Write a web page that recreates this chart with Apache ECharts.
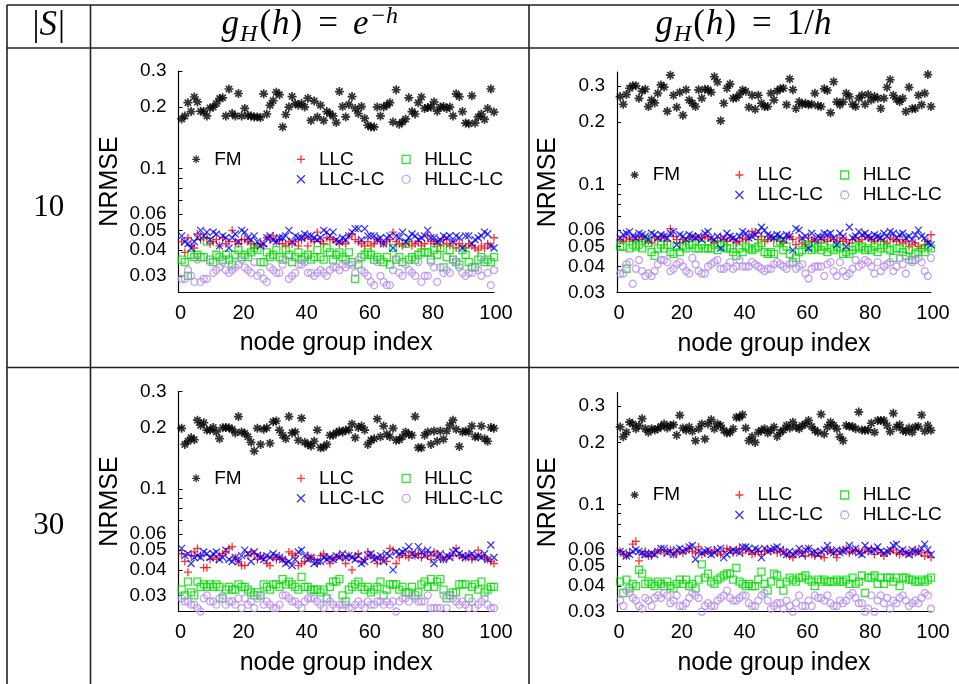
<!DOCTYPE html>
<html>
  <head>
    <meta charset="UTF-8" />
    <title>NRMSE per node group</title>
    <script src="https://cdn.jsdelivr.net/npm/echarts@6/dist/echarts.min.js"></script>
    <style>
      html, body { margin: 0; padding: 0; background: #fff; }
      #main { width: 959px; height: 684px; }
    </style>
  </head>
  <body>
    <div id="main"></div>
    <script>
      // |S| = 10, g_H(h) = e^-h
      const fmExp10 = [
        0.175,0.181,0.210,0.190,0.224,0.212,0.191,0.190,0.181,0.198,
        0.200,0.208,0.220,0.222,0.181,0.245,0.186,0.181,0.233,0.181,
        0.197,0.182,0.181,0.179,0.179,0.178,0.232,0.185,0.204,0.215,
        0.236,0.230,0.160,0.184,0.200,0.225,0.208,0.204,0.208,0.200,
        0.221,0.172,0.214,0.179,0.204,0.172,0.190,0.186,0.181,0.168,
        0.238,0.201,0.179,0.206,0.225,0.197,0.186,0.201,0.176,0.163,
        0.160,0.160,0.200,0.181,0.200,0.204,0.210,0.169,0.243,0.165,
        0.169,0.175,0.222,0.190,0.185,0.210,0.224,0.197,0.199,0.200,
        0.212,0.191,0.200,0.201,0.197,0.200,0.181,0.232,0.225,0.190,
        0.167,0.166,0.227,0.167,0.179,0.185,0.174,0.197,0.245,0.189];
      const llcExp10 = [
        0.044,0.039,0.046,0.042,0.041,0.048,0.045,0.046,0.046,0.043,
        0.044,0.045,0.042,0.046,0.043,0.044,0.050,0.044,0.043,0.045,
        0.045,0.044,0.043,0.041,0.042,0.043,0.042,0.046,0.045,0.047,
        0.044,0.045,0.043,0.042,0.044,0.043,0.044,0.042,0.045,0.046,
        0.042,0.045,0.044,0.049,0.044,0.043,0.046,0.045,0.045,0.044,
        0.043,0.044,0.043,0.047,0.048,0.045,0.044,0.043,0.042,0.044,
        0.042,0.043,0.045,0.044,0.043,0.044,0.045,0.049,0.044,0.043,
        0.042,0.043,0.044,0.042,0.043,0.044,0.042,0.043,0.047,0.044,
        0.043,0.044,0.042,0.045,0.043,0.042,0.044,0.041,0.043,0.042,
        0.041,0.043,0.042,0.041,0.040,0.042,0.041,0.043,0.042,0.046];
      const hllcExp10 = [
        0.036,0.035,0.030,0.038,0.037,0.038,0.037,0.037,0.044,0.036,
        0.035,0.038,0.037,0.036,0.038,0.036,0.034,0.038,0.040,0.037,
        0.038,0.037,0.039,0.041,0.040,0.035,0.035,0.039,0.037,0.038,
        0.040,0.037,0.036,0.040,0.038,0.035,0.037,0.039,0.036,0.037,
        0.038,0.036,0.037,0.040,0.037,0.036,0.041,0.039,0.036,0.038,
        0.039,0.037,0.036,0.039,0.035,0.029,0.034,0.037,0.038,0.039,
        0.038,0.036,0.037,0.036,0.035,0.037,0.034,0.041,0.036,0.037,
        0.035,0.043,0.036,0.037,0.036,0.038,0.039,0.039,0.039,0.036,
        0.040,0.038,0.041,0.033,0.037,0.040,0.036,0.035,0.034,0.040,
        0.038,0.035,0.033,0.033,0.036,0.037,0.035,0.036,0.035,0.037];
      const llclcExp10 = [
        0.047,0.044,0.043,0.041,0.044,0.046,0.050,0.047,0.049,0.045,
        0.049,0.048,0.042,0.047,0.046,0.041,0.046,0.048,0.044,0.050,
        0.049,0.046,0.045,0.047,0.044,0.042,0.043,0.046,0.047,0.045,
        0.044,0.046,0.046,0.047,0.050,0.044,0.047,0.046,0.046,0.048,
        0.047,0.047,0.046,0.045,0.046,0.050,0.049,0.047,0.049,0.045,
        0.044,0.046,0.045,0.047,0.049,0.051,0.051,0.045,0.051,0.047,
        0.047,0.047,0.045,0.046,0.043,0.046,0.047,0.041,0.047,0.046,
        0.049,0.044,0.046,0.048,0.047,0.045,0.046,0.047,0.050,0.046,
        0.046,0.044,0.045,0.047,0.046,0.047,0.044,0.047,0.046,0.041,
        0.047,0.047,0.043,0.045,0.046,0.047,0.049,0.048,0.042,0.041];
      const hllclcExp10 = [
        0.029,0.029,0.032,0.030,0.028,0.036,0.028,0.029,0.029,0.035,
        0.031,0.032,0.033,0.035,0.032,0.031,0.032,0.033,0.034,0.036,
        0.033,0.032,0.031,0.035,0.030,0.031,0.029,0.028,0.033,0.032,
        0.031,0.031,0.034,0.036,0.029,0.030,0.031,0.034,0.034,0.035,
        0.031,0.031,0.030,0.031,0.032,0.031,0.030,0.032,0.033,0.033,
        0.032,0.034,0.033,0.034,0.034,0.031,0.036,0.032,0.031,0.030,
        0.028,0.027,0.035,0.030,0.028,0.027,0.027,0.032,0.036,0.031,
        0.030,0.034,0.032,0.031,0.030,0.035,0.028,0.030,0.030,0.035,
        0.033,0.028,0.033,0.031,0.032,0.031,0.036,0.035,0.033,0.031,
        0.030,0.031,0.031,0.033,0.032,0.030,0.036,0.031,0.027,0.032];

      // |S| = 10, g_H(h) = 1/h
      const fmInv10 = [
        0.266,0.244,0.272,0.292,0.300,0.300,0.261,0.283,0.289,0.238,
        0.256,0.248,0.276,0.303,0.296,0.226,0.338,0.270,0.236,0.279,
        0.216,0.287,0.256,0.247,0.238,0.287,0.261,0.289,0.287,0.279,
        0.332,0.313,0.203,0.247,0.292,0.306,0.261,0.263,0.272,0.286,
        0.282,0.236,0.270,0.231,0.270,0.247,0.238,0.238,0.276,0.256,
        0.283,0.290,0.292,0.243,0.324,0.287,0.233,0.251,0.244,0.247,
        0.243,0.244,0.276,0.240,0.238,0.290,0.285,0.222,0.314,0.251,
        0.243,0.251,0.276,0.266,0.244,0.238,0.261,0.270,0.244,0.272,
        0.256,0.266,0.261,0.233,0.261,0.295,0.321,0.270,0.258,0.251,
        0.261,0.225,0.295,0.232,0.233,0.270,0.243,0.276,0.340,0.238];
      const llcInv10 = [
        0.054,0.053,0.055,0.054,0.053,0.056,0.054,0.055,0.054,0.053,
        0.052,0.055,0.054,0.055,0.056,0.053,0.061,0.056,0.054,0.052,
        0.054,0.053,0.055,0.054,0.056,0.054,0.055,0.056,0.055,0.054,
        0.052,0.053,0.055,0.054,0.053,0.055,0.054,0.052,0.053,0.055,
        0.054,0.055,0.059,0.058,0.054,0.056,0.053,0.054,0.055,0.054,
        0.056,0.053,0.052,0.055,0.056,0.054,0.051,0.055,0.052,0.051,
        0.055,0.053,0.054,0.052,0.055,0.054,0.053,0.055,0.054,0.053,
        0.055,0.053,0.054,0.052,0.054,0.055,0.053,0.054,0.056,0.055,
        0.054,0.053,0.055,0.054,0.053,0.052,0.055,0.054,0.053,0.054,
        0.052,0.053,0.050,0.051,0.052,0.050,0.049,0.051,0.053,0.057];
      const hllcInv10 = [
        0.050,0.050,0.039,0.049,0.051,0.050,0.051,0.049,0.054,0.052,
        0.047,0.045,0.049,0.051,0.049,0.051,0.047,0.046,0.050,0.047,
        0.050,0.049,0.051,0.051,0.049,0.049,0.051,0.049,0.049,0.049,
        0.051,0.048,0.051,0.050,0.049,0.049,0.047,0.045,0.049,0.047,
        0.050,0.049,0.048,0.049,0.050,0.052,0.047,0.046,0.047,0.046,
        0.052,0.053,0.048,0.050,0.046,0.042,0.044,0.047,0.048,0.051,
        0.050,0.048,0.049,0.050,0.048,0.050,0.047,0.049,0.048,0.050,
        0.049,0.046,0.047,0.046,0.048,0.050,0.049,0.050,0.048,0.049,
        0.048,0.050,0.047,0.049,0.051,0.049,0.048,0.044,0.049,0.049,
        0.047,0.045,0.048,0.043,0.046,0.047,0.049,0.047,0.050,0.049];
      const llclcInv10 = [
        0.055,0.057,0.058,0.059,0.056,0.055,0.058,0.057,0.056,0.054,
        0.058,0.057,0.055,0.057,0.056,0.055,0.058,0.059,0.051,0.057,
        0.056,0.054,0.057,0.056,0.055,0.056,0.054,0.058,0.059,0.055,
        0.054,0.056,0.049,0.055,0.058,0.056,0.055,0.054,0.056,0.059,
        0.058,0.055,0.056,0.057,0.059,0.062,0.060,0.057,0.056,0.055,
        0.057,0.056,0.054,0.057,0.056,0.048,0.061,0.060,0.055,0.056,
        0.049,0.058,0.054,0.056,0.055,0.058,0.057,0.058,0.055,0.051,
        0.058,0.056,0.050,0.062,0.055,0.056,0.059,0.057,0.058,0.056,
        0.055,0.057,0.056,0.055,0.058,0.056,0.059,0.058,0.055,0.057,
        0.058,0.055,0.056,0.054,0.057,0.060,0.056,0.055,0.052,0.051];
      const hllclcInv10 = [
        0.037,0.037,0.041,0.042,0.033,0.039,0.043,0.038,0.036,0.037,
        0.036,0.038,0.041,0.043,0.043,0.042,0.038,0.039,0.041,0.042,
        0.040,0.038,0.037,0.044,0.041,0.038,0.037,0.037,0.040,0.041,
        0.042,0.043,0.039,0.039,0.040,0.042,0.039,0.040,0.043,0.040,
        0.040,0.040,0.042,0.041,0.040,0.039,0.038,0.039,0.039,0.041,
        0.042,0.041,0.040,0.039,0.041,0.042,0.039,0.040,0.041,0.037,
        0.035,0.039,0.040,0.040,0.040,0.036,0.041,0.042,0.038,0.036,
        0.042,0.038,0.036,0.037,0.039,0.043,0.040,0.041,0.043,0.042,
        0.040,0.037,0.042,0.038,0.040,0.041,0.042,0.038,0.040,0.044,
        0.041,0.037,0.043,0.042,0.043,0.044,0.042,0.038,0.036,0.044];

      // |S| = 30, g_H(h) = e^-h
      const fmExp30 = [
        0.198,0.165,0.171,0.178,0.174,0.217,0.205,0.211,0.194,0.194,
        0.200,0.190,0.176,0.199,0.200,0.199,0.196,0.188,0.226,0.190,
        0.187,0.180,0.169,0.153,0.198,0.165,0.196,0.199,0.167,0.213,
        0.215,0.194,0.183,0.176,0.226,0.188,0.190,0.173,0.222,0.169,
        0.165,0.162,0.171,0.194,0.159,0.160,0.165,0.183,0.183,0.188,
        0.192,0.190,0.194,0.194,0.208,0.178,0.200,0.203,0.194,0.165,
        0.173,0.176,0.220,0.180,0.203,0.185,0.180,0.198,0.173,0.174,
        0.180,0.190,0.185,0.183,0.226,0.159,0.159,0.183,0.190,0.165,
        0.192,0.171,0.192,0.175,0.192,0.205,0.217,0.196,0.161,0.190,
        0.192,0.190,0.203,0.180,0.180,0.203,0.176,0.171,0.200,0.198];
      const llcExp30 = [
        0.048,0.044,0.039,0.047,0.049,0.051,0.047,0.041,0.041,0.045,
        0.046,0.045,0.047,0.048,0.049,0.051,0.052,0.046,0.044,0.042,
        0.042,0.047,0.049,0.048,0.045,0.047,0.046,0.043,0.042,0.046,
        0.045,0.046,0.045,0.044,0.049,0.048,0.047,0.042,0.043,0.044,
        0.047,0.046,0.045,0.043,0.047,0.048,0.046,0.043,0.045,0.046,
        0.047,0.046,0.043,0.047,0.040,0.046,0.048,0.044,0.045,0.049,
        0.047,0.046,0.043,0.045,0.046,0.044,0.051,0.050,0.043,0.046,
        0.048,0.047,0.046,0.049,0.047,0.048,0.046,0.049,0.047,0.045,
        0.049,0.048,0.046,0.045,0.046,0.047,0.047,0.051,0.047,0.046,
        0.046,0.047,0.045,0.046,0.050,0.047,0.046,0.045,0.044,0.043];
      const hllcExp30 = [
        0.032,0.030,0.035,0.031,0.030,0.035,0.033,0.034,0.033,0.034,
        0.033,0.034,0.033,0.029,0.032,0.033,0.032,0.032,0.034,0.033,
        0.033,0.032,0.031,0.030,0.031,0.030,0.034,0.033,0.032,0.034,
        0.034,0.033,0.036,0.034,0.035,0.034,0.033,0.032,0.037,0.033,
        0.033,0.032,0.032,0.032,0.031,0.032,0.029,0.033,0.035,0.035,
        0.036,0.030,0.028,0.032,0.033,0.034,0.035,0.033,0.032,0.033,
        0.031,0.032,0.033,0.035,0.030,0.032,0.034,0.034,0.034,0.032,
        0.033,0.031,0.031,0.033,0.030,0.031,0.034,0.035,0.033,0.036,
        0.033,0.035,0.036,0.032,0.029,0.030,0.031,0.031,0.034,0.034,
        0.034,0.029,0.033,0.034,0.032,0.035,0.031,0.032,0.033,0.033];
      const llclcExp30 = [
        0.051,0.047,0.048,0.043,0.046,0.047,0.046,0.049,0.048,0.046,
        0.048,0.049,0.045,0.046,0.050,0.045,0.044,0.046,0.044,0.047,
        0.050,0.048,0.044,0.049,0.047,0.046,0.045,0.047,0.046,0.048,
        0.047,0.046,0.045,0.043,0.044,0.042,0.045,0.049,0.050,0.047,
        0.045,0.046,0.043,0.044,0.044,0.046,0.045,0.046,0.045,0.047,
        0.046,0.048,0.046,0.047,0.046,0.045,0.047,0.043,0.044,0.047,
        0.048,0.045,0.046,0.047,0.044,0.048,0.047,0.040,0.049,0.048,
        0.049,0.050,0.052,0.048,0.047,0.052,0.049,0.047,0.050,0.048,
        0.043,0.046,0.048,0.045,0.047,0.046,0.049,0.050,0.048,0.047,
        0.046,0.047,0.048,0.046,0.047,0.046,0.048,0.045,0.053,0.046];
      const hllclcExp30 = [
        0.029,0.028,0.028,0.027,0.027,0.026,0.025,0.029,0.030,0.028,
        0.028,0.027,0.029,0.030,0.027,0.028,0.028,0.027,0.029,0.026,
        0.029,0.027,0.028,0.026,0.029,0.030,0.027,0.028,0.027,0.026,
        0.026,0.027,0.030,0.030,0.029,0.028,0.028,0.027,0.026,0.028,
        0.029,0.029,0.029,0.028,0.027,0.026,0.029,0.028,0.027,0.026,
        0.027,0.027,0.027,0.026,0.026,0.027,0.028,0.027,0.026,0.028,
        0.027,0.027,0.028,0.028,0.027,0.028,0.027,0.028,0.025,0.028,
        0.029,0.029,0.028,0.030,0.029,0.028,0.028,0.028,0.030,0.026,
        0.026,0.026,0.026,0.030,0.026,0.030,0.029,0.028,0.027,0.028,
        0.027,0.026,0.028,0.026,0.027,0.028,0.029,0.027,0.026,0.026];

      // |S| = 30, g_H(h) = 1/h
      const fmInv30 = [
        0.238,0.213,0.224,0.251,0.246,0.233,0.242,0.261,0.233,0.224,
        0.233,0.230,0.233,0.239,0.246,0.235,0.242,0.244,0.217,0.271,
        0.235,0.229,0.238,0.227,0.204,0.233,0.246,0.208,0.246,0.258,
        0.233,0.246,0.242,0.229,0.222,0.224,0.233,0.265,0.265,0.273,
        0.235,0.204,0.213,0.200,0.224,0.229,0.233,0.222,0.229,0.238,
        0.214,0.224,0.230,0.242,0.235,0.251,0.238,0.233,0.242,0.246,
        0.256,0.239,0.229,0.224,0.274,0.220,0.238,0.251,0.242,0.233,
        0.213,0.204,0.242,0.239,0.239,0.233,0.281,0.230,0.229,0.230,
        0.248,0.224,0.256,0.256,0.256,0.242,0.226,0.277,0.238,0.244,
        0.229,0.226,0.235,0.224,0.238,0.239,0.272,0.227,0.242,0.229];
      const llcInv30 = [
        0.059,0.057,0.056,0.058,0.064,0.066,0.053,0.057,0.059,0.056,
        0.056,0.058,0.059,0.060,0.058,0.059,0.060,0.057,0.058,0.059,
        0.058,0.060,0.061,0.059,0.058,0.062,0.057,0.058,0.059,0.058,
        0.060,0.058,0.057,0.059,0.061,0.060,0.058,0.060,0.061,0.058,
        0.060,0.059,0.057,0.058,0.059,0.057,0.059,0.060,0.059,0.060,
        0.058,0.059,0.060,0.057,0.056,0.055,0.058,0.059,0.058,0.056,
        0.061,0.057,0.056,0.058,0.056,0.055,0.059,0.060,0.058,0.055,
        0.059,0.060,0.061,0.058,0.059,0.060,0.059,0.058,0.060,0.059,
        0.061,0.057,0.060,0.058,0.056,0.058,0.059,0.060,0.058,0.057,
        0.059,0.058,0.058,0.057,0.060,0.059,0.058,0.056,0.058,0.055];
      const hllcInv30 = [
        0.042,0.037,0.043,0.039,0.041,0.040,0.048,0.046,0.041,0.042,
        0.041,0.040,0.042,0.041,0.040,0.042,0.040,0.039,0.041,0.043,
        0.041,0.043,0.040,0.041,0.039,0.043,0.051,0.044,0.046,0.042,
        0.041,0.043,0.044,0.045,0.046,0.046,0.043,0.049,0.042,0.041,
        0.040,0.041,0.040,0.040,0.043,0.047,0.041,0.038,0.042,0.046,
        0.045,0.041,0.038,0.042,0.044,0.043,0.042,0.044,0.044,0.045,
        0.043,0.042,0.040,0.043,0.042,0.043,0.042,0.042,0.042,0.043,
        0.042,0.042,0.043,0.041,0.044,0.041,0.042,0.045,0.037,0.044,
        0.044,0.045,0.041,0.044,0.041,0.044,0.044,0.042,0.044,0.040,
        0.044,0.044,0.043,0.043,0.042,0.042,0.043,0.042,0.043,0.044];
      const llclcInv30 = [
        0.059,0.058,0.056,0.057,0.059,0.060,0.059,0.058,0.057,0.057,
        0.058,0.057,0.059,0.061,0.061,0.058,0.059,0.057,0.060,0.061,
        0.059,0.060,0.062,0.063,0.054,0.059,0.058,0.059,0.060,0.057,
        0.058,0.060,0.061,0.055,0.057,0.059,0.060,0.059,0.058,0.062,
        0.062,0.061,0.059,0.061,0.060,0.055,0.061,0.059,0.060,0.061,
        0.062,0.060,0.058,0.057,0.059,0.057,0.058,0.061,0.057,0.060,
        0.061,0.058,0.059,0.057,0.059,0.060,0.063,0.059,0.058,0.060,
        0.058,0.059,0.060,0.063,0.059,0.061,0.058,0.057,0.063,0.060,
        0.059,0.060,0.062,0.059,0.058,0.059,0.060,0.063,0.064,0.059,
        0.060,0.058,0.057,0.060,0.059,0.058,0.061,0.064,0.060,0.057];
      const hllclcInv30 = [
        0.034,0.032,0.038,0.037,0.035,0.034,0.032,0.031,0.035,0.034,
        0.032,0.035,0.036,0.035,0.037,0.036,0.033,0.034,0.036,0.032,
        0.032,0.033,0.035,0.037,0.036,0.035,0.030,0.032,0.033,0.032,
        0.032,0.034,0.035,0.036,0.038,0.035,0.034,0.034,0.035,0.036,
        0.036,0.033,0.032,0.032,0.034,0.036,0.037,0.034,0.031,0.032,
        0.033,0.033,0.031,0.034,0.032,0.030,0.033,0.036,0.032,0.032,
        0.034,0.032,0.036,0.035,0.035,0.034,0.036,0.033,0.032,0.032,
        0.034,0.033,0.034,0.036,0.037,0.035,0.033,0.033,0.030,0.031,
        0.036,0.030,0.034,0.036,0.033,0.035,0.031,0.034,0.033,0.035,
        0.036,0.034,0.032,0.033,0.034,0.033,0.035,0.037,0.036,0.031];

      const yTickValues = [0.03, 0.04, 0.05, 0.06, 0.07, 0.08, 0.09, 0.1, 0.2, 0.3];
      const yLabelValues = [0.03, 0.04, 0.05, 0.06, 0.1, 0.2, 0.3];
      const xLabelStep = 20;

      const SANS = 'Liberation Sans, Arial, sans-serif';
      const SERIF = 'Liberation Serif, Times New Roman, serif';

      const looks = {
        'FM':      { color: '#000000', size: 9, width: 1.7, symbol: 'path://M0,5L10,5M5,0L5,10M1.5,1.5L8.5,8.5M8.5,1.5L1.5,8.5' },
        'LLC':     { color: '#ff0000', size: 8, width: 1.3, symbol: 'path://M0,5L10,5M5,0L5,10' },
        'HLLC':    { color: '#00dd00', size: 7, width: 1.3, symbol: 'path://M0,0L10,0L10,10L0,10Z' },
        'LLC-LC':  { color: '#0000ff', size: 7, width: 1.3, symbol: 'path://M0,0L10,10M10,0L0,10' },
        'HLLC-LC': { color: '#b68cf0', size: 7, width: 1.3, symbol: 'circle' }
      };

      const panels = [
        { grid: { left: 178.5, top: 71, width: 315.5, height: 221 }, yMin: 0.025, yMax: 0.3, legendRow: 88.3,
          series: { 'FM': fmExp10, 'LLC': llcExp10, 'HLLC': hllcExp10, 'LLC-LC': llclcExp10, 'HLLC-LC': hllclcExp10 } },
        { grid: { left: 617, top: 72, width: 314, height: 220.3 }, yMin: 0.03, yMax: 0.35, legendRow: 103,
          series: { 'FM': fmInv10, 'LLC': llcInv10, 'HLLC': hllcInv10, 'LLC-LC': llclcInv10, 'HLLC-LC': hllclcInv10 } },
        { grid: { left: 178.5, top: 391.5, width: 315.5, height: 220 }, yMin: 0.025, yMax: 0.3, legendRow: 86.8,
          series: { 'FM': fmExp30, 'LLC': llcExp30, 'HLLC': hllcExp30, 'LLC-LC': llclcExp30, 'HLLC-LC': hllclcExp30 } },
        { grid: { left: 617, top: 392.5, width: 314, height: 219.2 }, yMin: 0.03, yMax: 0.35, legendRow: 102.5,
          series: { 'FM': fmInv30, 'LLC': llcInv30, 'HLLC': hllcInv30, 'LLC-LC': llclcInv30, 'HLLC-LC': hllclcInv30 } }
      ];

      const legendColumns = [
        { offset: 26, names: ['FM'] },
        { offset: 130.8, names: ['LLC', 'LLC-LC'] },
        { offset: 236, names: ['HLLC', 'HLLC-LC'] }
      ];

      const grids = [], xAxes = [], yAxes = [], series = [], legends = [];

      panels.forEach((p, k) => {
        grids.push(Object.assign({ outerBoundsMode: 'none' }, p.grid));

        xAxes.push({
          type: 'value', gridIndex: k, min: 0, max: 100, interval: xLabelStep,
          name: 'node group index', nameLocation: 'middle', nameGap: 39,
          nameTextStyle: { fontFamily: SANS, fontSize: 25, color: '#000' },
          axisLine: { onZero: false, lineStyle: { color: '#000', width: 1.2 } },
          axisTick: { show: false },
          axisLabel: { margin: 11, padding: [0, 0, 0, 4], fontFamily: SANS, fontSize: 20, color: '#000' },
          splitLine: { show: false }
        });

        yAxes.push({
          type: 'log', logBase: 10, gridIndex: k, min: p.yMin, max: p.yMax,
          name: 'NRMSE', nameLocation: 'middle', nameGap: 56,
          nameTextStyle: { fontFamily: SANS, fontSize: 25, color: '#000' },
          axisLine: { show: true, lineStyle: { color: '#000', width: 1.2 } },
          axisTick: { show: true, inside: true, length: 4, customValues: yTickValues,
                      lineStyle: { color: '#000', width: 1 } },
          axisLabel: { customValues: yLabelValues, margin: 12, fontFamily: SANS, fontSize: 19, color: '#000',
                       formatter: v => String(+(+v).toPrecision(3)) },
          splitLine: { show: false }
        });

        Object.keys(p.series).forEach(name => {
          const look = looks[name];
          series.push({
            type: 'scatter', name, xAxisIndex: k, yAxisIndex: k,
            symbol: look.symbol, symbolSize: look.size,
            itemStyle: { color: 'transparent', borderColor: look.color, borderWidth: look.width },
            emphasis: { disabled: true }, silent: true,
            data: p.series[name].map((v, i) => [i + 1, v])
          });
        });

        legendColumns.forEach(col => {
          legends.push({
            orient: 'vertical', padding: 0, itemGap: 0, itemWidth: 26, itemHeight: 8,
            left: p.grid.left + col.offset - 13, top: p.grid.top + p.legendRow - 10,
            selectedMode: false, data: col.names,
            itemStyle: { borderWidth: 1.3 },
            textStyle: { fontFamily: SANS, fontSize: 19, color: '#000', lineHeight: 20 }
          });
        });
      });

      // table rules and cell texts
      const ruleStyle = { stroke: '#222', lineWidth: 1.6 };
      const hLine = (y) => ({ type: 'line', silent: true, shape: { x1: 7, y1: y, x2: 959, y2: y }, style: ruleStyle });
      const vLine = (x) => ({ type: 'line', silent: true, shape: { x1: x, y1: 5, x2: x, y2: 684 }, style: ruleStyle });

      const mathRich = {
        n: { fontFamily: SERIF, fontSize: 35, fill: '#000' },
        np: { fontFamily: SERIF, fontSize: 35, fill: '#000', padding: [0, 1, 0, 0] },
        eq: { fontFamily: SERIF, fontSize: 35, fill: '#000', padding: [0, 15, 0, 15] },
        i: { fontFamily: SERIF, fontSize: 35, fontStyle: 'italic', fill: '#000', padding: [0, 1, 0, 0] },
        sub: { fontFamily: SERIF, fontSize: 24, fontStyle: 'italic', fill: '#000', padding: [19, 2, 0, 0] },
        sup: { fontFamily: SERIF, fontSize: 24, fill: '#000', padding: [0, 1, 17, 2] },
        supi: { fontFamily: SERIF, fontSize: 24, fontStyle: 'italic', fill: '#000', padding: [0, 0, 17, 0] },
        cell: { fontFamily: SERIF, fontSize: 31, fill: '#000' }
      };
      const mathText = (x, y, text) => ({
        type: 'text', silent: true, x, y,
        style: { text, rich: mathRich, align: 'center', verticalAlign: 'middle', fill: '#000' }
      });

      const graphics = [
        hLine(5), hLine(48), hLine(367.5),
        vLine(7), vLine(90.5), vLine(529),
        mathText(48.7, 26, '{n||}{i|S}{n||}'),
        mathText(309.8, 25, '{i|g}{sub|H}{np|(}{i|h}{np|)}{eq|=}{i|e}{sup|−}{supi|h}'),
        mathText(744, 25, '{i|g}{sub|H}{np|(}{i|h}{np|)}{eq|=}{n|1/}{i|h}'),
        mathText(48.7, 208, '{cell|10}'),
        mathText(48.7, 526, '{cell|30}')
      ];

      const chart = echarts.init(document.getElementById('main'));
      chart.setOption({
        animation: false,
        backgroundColor: '#fff',
        grid: grids,
        xAxis: xAxes,
        yAxis: yAxes,
        legend: legends,
        series,
        graphic: { elements: graphics }
      });
    </script>
  </body>
</html>
